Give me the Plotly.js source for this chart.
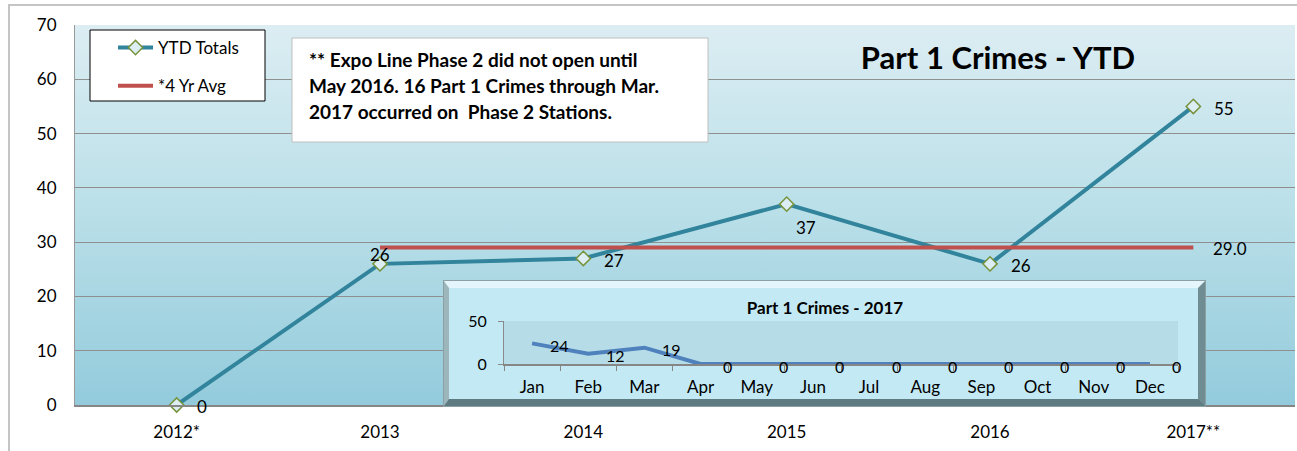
<!DOCTYPE html>
<html>
<head>
<meta charset="utf-8">
<script src="https://cdn.plot.ly/plotly-3.0.1.min.js"></script>
<style>
  html, body { margin:0; padding:0; background:#ffffff; overflow:hidden; }
  #wrap { position:relative; width:1297px; height:451px; }
  #frameTop { position:absolute; left:9px; top:4px; width:1288px; height:0; border-top:2px solid #c4c4c4; }
  #frameLeft { position:absolute; left:8px; top:4px; width:0; height:447px; border-left:2px solid #c4c4c4; }
  #bg { position:absolute; left:75px; top:25px; width:1220px; height:380px;
        background:linear-gradient(to bottom, #dcedf3 0%, #b9dfe8 50%, #93cbdc 100%); }
  #main { position:absolute; left:0; top:0; width:1297px; height:451px; z-index:1; }
  #insetBox { position:absolute; left:444px; top:281px; width:749px; height:111px; z-index:2;
        border-top:7px solid #e4f6fb; border-left:5px solid #9db6bc;
        border-right:7px solid #6f8c93; border-bottom:7px solid #5e7b81;
        box-shadow:0 0 0 1px #8aa0a5; }
  #inset { width:749px; height:111px; }
</style>
</head>
<body>
<div id="wrap">
  <div id="bg"></div>
  <div id="frameTop"></div>
  <div id="frameLeft"></div>
  <div id="main"></div>
  <div id="insetBox"><div id="inset"></div></div>
</div>
<script>
// ---- data ----
const years = ['2012*', '2013', '2014', '2015', '2016', '2017**'];
const ytdTotals = [0, 26, 27, 37, 26, 55];
const avgYears = ['2013', '2014', '2015', '2016', '2017**'];
const avgValues = [29.0, 29.0, 29.0, 29.0, 29.0];
const months = ['Jan','Feb','Mar','Apr','May','Jun','Jul','Aug','Sep','Oct','Nov','Dec'];
const crimes2017 = [24, 12, 19, 0, 0, 0, 0, 0, 0, 0, 0, 0];
const noteLines = ['** Expo Line Phase 2 did not open until',
                   'May 2016. 16 Part 1 Crimes through Mar.',
                   '2017 occurred on  Phase 2 Stations.'];

const FONT = 'Lato, "Open Sans", sans-serif';

// label placement (style only): [xanchor, xshift, yshift]
const ytdLabelPos = [['left',18,-1],['center',0,9],['left',19,-2],['left',7,-23],['left',19,-2],['left',19,-2]];

const annotations = [];
ytdTotals.forEach((v, i) => {
  const p = ytdLabelPos[i];
  annotations.push({x: i, y: v, xref:'x', yref:'y', text: String(v), showarrow:false,
    xanchor:p[0], yanchor:'middle', xshift:p[1], yshift:p[2], font:{family:FONT, size:17, color:'#000'}});
});
const lastAvg = avgValues[avgValues.length-1];
annotations.push({x: years.indexOf(avgYears[avgYears.length-1]), y: lastAvg, xref:'x', yref:'y',
  text: lastAvg.toFixed(1), showarrow:false, xanchor:'left', yanchor:'middle',
  xshift:18, yshift:-1, font:{family:FONT, size:17, color:'#000'}});
// note box text lines
noteLines.forEach((t, i) => {
  annotations.push({xref:'paper', yref:'paper', x:(307-75)/1220, y:(405-(60+25.5*i))/380,
    text:'<b>'+t+'</b>', showarrow:false, xanchor:'left', yanchor:'middle',
    font:{family:FONT, size:19, color:'#000'}});
});

const traces = [
  {x: years, y: ytdTotals, type:'scatter', mode:'lines+markers', name:'YTD Totals', legendgroup:'a',
   line:{color:'#31849b', width:4},
   marker:{symbol:'diamond', size:11, color:'#dcedf3', line:{color:'#77933c', width:1.5}},
   cliponaxis:false},
  {x: avgYears, y: avgValues, type:'scatter', mode:'lines', name:'*4 Yr Avg', legendgroup:'b',
   line:{color:'#c0504d', width:4}}
];

const layout = {
  width:1297, height:451,
  margin:{l:75, r:2, t:25, b:46},
  paper_bgcolor:'rgba(0,0,0,0)', plot_bgcolor:'rgba(0,0,0,0)',
  font:{family:FONT, size:17, color:'#000'},
  title:{text:'<b>Part 1 Crimes - YTD</b>', font:{family:FONT, size:31, color:'#000'},
         xref:'paper', yref:'paper', x:(998-75)/1220, y:(405-58)/380, xanchor:'center', yanchor:'middle'},
  xaxis:{type:'category', range:[-0.5, 5.5], showgrid:false, zeroline:false,
         showline:true, linecolor:'#868686', linewidth:2, ticks:'', ticklabelstandoff:11,
         tickfont:{family:FONT, size:17, color:'#000'}, fixedrange:true},
  yaxis:{range:[0, 70], dtick:10, showgrid:true, gridcolor:'#8f8f8f', gridwidth:1, zeroline:false,
         showline:true, linecolor:'#9a9a9a', linewidth:1, ticks:'', ticklabelstandoff:14,
         tickfont:{family:FONT, size:17, color:'#000'}, fixedrange:true},
  showlegend:true,
  legend:{x:(113-75)/1220, y:(405-30)/380, xanchor:'left', yanchor:'top', bgcolor:'rgba(0,0,0,0)',
          borderwidth:0, tracegroupgap:13, itemwidth:35, font:{family:FONT, size:17, color:'#000'}},
  shapes:[
    {type:'rect', xref:'paper', yref:'paper', layer:'above',
     x0:(90-75)/1220, x1:(265-75)/1220, y0:(405-101)/380, y1:(405-30)/380,
     fillcolor:'#ffffff', line:{color:'#000000', width:1}},
    {type:'rect', xref:'paper', yref:'paper', layer:'above',
     x0:(292-75)/1220, x1:(708-75)/1220, y0:(405-142)/380, y1:(405-38)/380,
     fillcolor:'#ffffff', line:{color:'#bfbfbf', width:1}}
  ],
  annotations: annotations
};

Plotly.newPlot('main', traces, layout, {displayModeBar:false, staticPlot:true});

// ---- inset chart ----
const insetAnn = crimes2017.map((v, i) => ({x: i, y: v, xref:'x', yref:'y', text:String(v),
  showarrow:false, xanchor:'center', yanchor:'middle', xshift:27, yshift:-2,
  font:{family:FONT, size:16, color:'#000'}}));

const insetTraces = [
  {x: months, y: crimes2017, type:'scatter', mode:'lines', name:'2017',
   line:{color:'#4f81bd', width:4}, showlegend:false}
];
const insetLayout = {
  width:749, height:111,
  margin:{l:55, r:20, t:33, b:35},
  paper_bgcolor:'#c3eaf4', plot_bgcolor:'#b6dde7',
  font:{family:FONT, size:16, color:'#000'},
  title:{text:'<b>Part 1 Crimes - 2017</b>', font:{family:FONT, size:17, color:'#000'},
         xref:'container', yref:'container', x:376/749, y:1-20/111, xanchor:'center', yanchor:'middle'},
  xaxis:{type:'category', range:[-0.5, 11.5], showgrid:false, zeroline:false,
         showline:true, linecolor:'#868686', linewidth:2, ticks:'outside', tickson:'boundaries',
         ticklen:5, tickcolor:'#868686', ticklabelstandoff:7,
         tickfont:{family:FONT, size:17, color:'#000'}, fixedrange:true},
  yaxis:{range:[0, 50], tickvals:[0, 50], showgrid:true, gridcolor:'#8a8a8a', zeroline:false,
         showline:true, linecolor:'#8a8a8a', linewidth:1, ticks:'outside', ticklen:5, tickcolor:'#8a8a8a',
         ticklabelstandoff:8, tickfont:{family:FONT, size:16, color:'#000'}, fixedrange:true},
  showlegend:false,
  annotations: insetAnn
};
Plotly.newPlot('inset', insetTraces, insetLayout, {displayModeBar:false, staticPlot:true});
</script>
</body>
</html>
